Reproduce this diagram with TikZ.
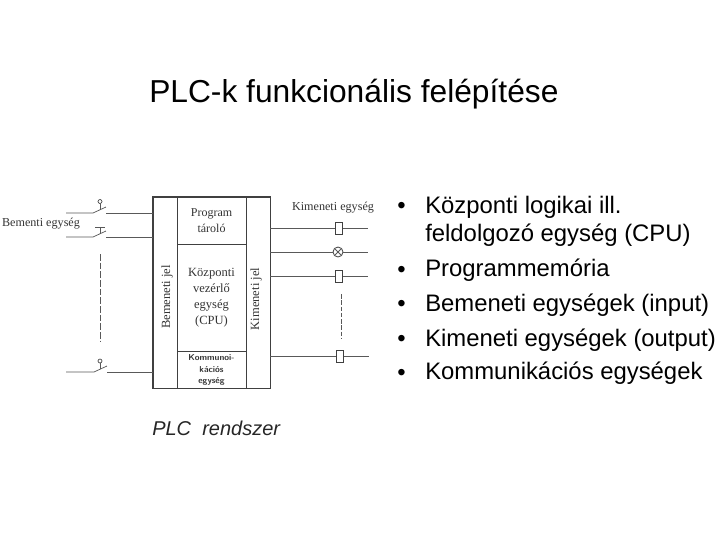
\documentclass[tikz,border=0pt]{standalone}
\usepackage{fontspec}
\setmainfont{Liberation Sans}
\newfontfamily\scanfont{Liberation Serif}
\begin{document}
\begin{tikzpicture}[x=0.75pt,y=-0.75pt]
    % Node styles
    \tikzset{
      part box/.style={draw=black!75,line width=0.7pt,inner sep=0pt,align=center,font=\scanfont\fontsize{9}{11.5}\selectfont,text=black!80},
      scan label/.style={inner sep=0pt,font=\scanfont\fontsize{9.1}{10}\selectfont,text=black!80},
      wire/.style={draw=black!65,line width=0.55pt},
      coil/.style={draw=black!75,fill=white,line width=0.6pt,minimum width=5.2pt,minimum height=9pt,inner sep=0pt},
      lamp/.style={draw=black!75,fill=white,circle,line width=0.6pt,minimum size=7.5pt,inner sep=0pt},
      knob/.style={draw=black!75,fill=white,circle,line width=0.5pt,minimum size=3pt,inner sep=0pt},
      bullet text/.style={anchor=base west,inner sep=0pt,font=\fontsize{17.9}{20}\selectfont,text=black}
    }
    \useasboundingbox (0,0) rectangle (720,540);

    % --- Title ---
    \node[anchor=base west,inner sep=0pt,font=\fontsize{23.8}{28}\selectfont,text=black] (title) at (149,102) {PLC-k funkcionális felépítése};

    % --- PLC block ---
    \node[part box,minimum width=18pt,minimum height=143.25pt] (inbar) at (165,292.5) {};
    \node[part box,minimum width=18pt,minimum height=143.25pt] (outbar) at (258,292.5) {};
    \node[part box,minimum width=51.75pt,minimum height=35.25pt] (store) at (211.5,220.5) {Program\\tároló};
    \node[part box,minimum width=51.75pt,minimum height=80.25pt,font=\scanfont\fontsize{9.4}{12}\selectfont] (cpu) at (211.5,297.5) {Központi\\vezérlő\\egység\\(CPU)};
    \node[part box,minimum width=51.75pt,minimum height=27.75pt,font=\sffamily\bfseries\fontsize{6.5}{8.5}\selectfont] (comm) at (211.5,370) {Kommunoi-\\kációs\\egység};
    \draw[draw=black!75,line width=1pt] (inbar.north west) rectangle (outbar.south east);
    \node[scan label,rotate=90,font=\scanfont\fontsize{9.4}{11}\selectfont] (injel) at (167,297) {Bemeneti jel};
    \node[scan label,rotate=90,font=\scanfont\fontsize{9.4}{11}\selectfont] (outjel) at (256,299) {Kimeneti jel};

    % --- Labels ---
    \node[scan label] (inlabel) at (41,224) {Bementi egység};
    \node[scan label] (outlabel) at (333,208) {Kimeneti egység};
    \node[anchor=base west,inner sep=0pt,font=\itshape\fontsize{15}{18}\selectfont,text=black!85] (plclabel) at (152,435) {PLC\ \ rendszer};

    % --- Input switches ---
    \coordinate (a1) at (66,213);
    \coordinate (b1) at (93,213);
    \coordinate (c1) at (106,213);
    \coordinate (d1) at (153,213);
    \coordinate (e1) at (106,207);
    \coordinate (s1) at (100,210);
    \node[knob] (k1) at (100,201.5) {};
    \draw[wire] (a1) -- (b1) -- (e1);
    \draw[wire] (c1) -- (d1);
    \draw[wire] (k1) -- (s1);

    \coordinate (a2) at (66,237);
    \coordinate (b2) at (93,237);
    \coordinate (c2) at (106,237);
    \coordinate (d2) at (153,237);
    \coordinate (e2) at (106,231);
    \coordinate (s2) at (100,234);
    \coordinate (t2) at (100,227);
    \coordinate (u2) at (95,227);
    \coordinate (v2) at (105,227);
    \draw[wire] (a2) -- (b2) -- (e2);
    \draw[wire] (c2) -- (d2);
    \draw[wire] (t2) -- (s2);
    \draw[wire] (u2) -- (v2);

    \coordinate (a3) at (66,372);
    \coordinate (b3) at (94,372);
    \coordinate (c3) at (107,372);
    \coordinate (d3) at (153,372);
    \coordinate (e3) at (107,366);
    \coordinate (s3) at (100,369);
    \node[knob] (k3) at (100,361) {};
    \draw[wire] (a3) -- (b3) -- (e3);
    \draw[wire] (c3) -- (d3);
    \draw[wire] (k3) -- (s3);

    % dashed continuation
    \coordinate (p1) at (100,254);
    \coordinate (p2) at (100,341);
    \draw[wire,dashed,dash pattern=on 5pt off 1.5pt] (p1) -- (p2);

    % --- Outputs ---
    \coordinate (o1) at (270,228);
    \coordinate (q1) at (368,228);
    \node[coil] (coil1) at (339,228) {};
    \draw[wire] (o1) -- (coil1) -- (q1);

    \coordinate (o2) at (270,252);
    \coordinate (q2) at (368,252);
    \node[lamp] (lamp2) at (338,252) {};
    \draw[wire] (o2) -- (lamp2) -- (q2);
    \draw[wire] (lamp2.north west) -- (lamp2.south east);
    \draw[wire] (lamp2.north east) -- (lamp2.south west);

    \coordinate (o3) at (270,276);
    \coordinate (q3) at (368,276);
    \node[coil] (coil3) at (339,276) {};
    \draw[wire] (o3) -- (coil3) -- (q3);

    \coordinate (o4) at (270,356);
    \coordinate (q4) at (369,356);
    \node[coil] (coil4) at (340,356) {};
    \draw[wire] (o4) -- (coil4) -- (q4);

    % dashed continuation
    \coordinate (r1) at (341,294);
    \coordinate (r2) at (341,338);
    \draw[wire,dashed,dash pattern=on 3.5pt off 1.2pt] (r1) -- (r2);

    % --- Bullet list ---
    \node[bullet text] (b1mark) at (397,213) {•};
    \node[bullet text] (b1text) at (425,213) {Központi logikai ill.};
    \node[bullet text] (b1more) at (425,241) {feldolgozó egység (CPU)};
    \node[bullet text] (b2mark) at (397,277) {•};
    \node[bullet text] (b2text) at (425,276) {Programmemória};
    \node[bullet text] (b3mark) at (397,311) {•};
    \node[bullet text] (b3text) at (425,311) {Bemeneti egységek (input)};
    \node[bullet text] (b4mark) at (397,346) {•};
    \node[bullet text] (b4text) at (425,346) {Kimeneti egységek (output)};
    \node[bullet text] (b5mark) at (397,380) {•};
    \node[bullet text] (b5text) at (425,379) {Kommunikációs egységek};
\end{tikzpicture}
\end{document}
